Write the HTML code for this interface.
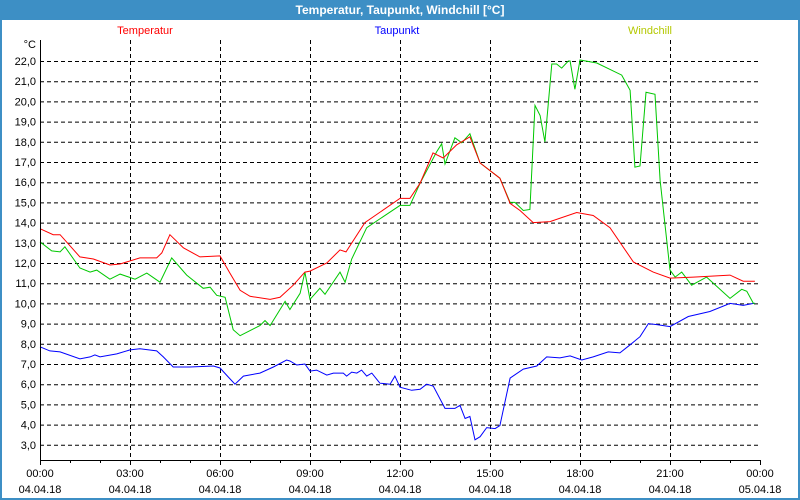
<!DOCTYPE html>
<html><head><meta charset="utf-8"><style>
body{margin:0;background:#fff}
#wrap{position:relative;width:800px;height:500px;overflow:hidden;font-family:"Liberation Sans",sans-serif}
</style></head><body>
<div id="wrap">
<svg id="chart" width="800" height="500" xmlns="http://www.w3.org/2000/svg" font-family="Liberation Sans, sans-serif" font-size="11">
<rect x="0" y="0" width="800" height="500" fill="#3d8fc5"/>
<rect x="2" y="20" width="796" height="478" fill="#fff"/>
<text x="400" y="14" text-anchor="middle" fill="#fff" font-weight="bold" font-size="12">Temperatur, Taupunkt, Windchill [°C]</text>
<text x="145" y="34" text-anchor="middle" fill="#ff0000">Temperatur</text>
<text x="397" y="34" text-anchor="middle" fill="#0000ff">Taupunkt</text>
<text x="650" y="34" text-anchor="middle" fill="#b4c800">Windchill</text>
<text x="36" y="48" text-anchor="end" fill="#000">°C</text>
<g id="grid"></g><g id="series"></g><g id="axes"></g>
</svg>
</div>
<script>
const yTicks=[3,4,5,6,7,8,9,10,11,12,13,14,15,16,17,18,19,20,21,22];
const xTickHours=[0,3,6,9,12,15,18,21,24];
const xTimeLabels=["00:00","03:00","06:00","09:00","12:00","15:00","18:00","21:00","00:00"];
const xDateLabels=["04.04.18","04.04.18","04.04.18","04.04.18","04.04.18","04.04.18","04.04.18","04.04.18","05.04.18"];
const tempHours=[0,0.44,0.67,1.33,1.78,2.33,2.67,3.33,3.89,4.06,4.33,4.78,5.33,6,6.33,6.67,7,7.67,8,8.44,8.83,9,9.56,10,10.2,10.83,12,12.33,12.67,13.1,13.44,13.89,14.33,14.67,15.33,15.67,16,16.44,17,17.89,18.44,19,19.78,20.44,21,21.78,23,23.44,23.83];
const tempValues=[13.7,13.4,13.4,12.3,12.2,11.9,11.95,12.25,12.25,12.5,13.4,12.75,12.3,12.35,11.5,10.65,10.35,10.2,10.3,10.9,11.55,11.6,12.0,12.65,12.55,14.0,15.2,15.2,15.95,17.45,17.2,17.85,18.25,16.95,16.2,14.95,14.6,14.0,14.05,14.5,14.35,13.75,12.05,11.55,11.25,11.3,11.4,11.1,11.1];
const chillHours=[0,0.39,0.67,0.83,1.33,1.67,1.89,2.33,2.67,3.17,3.56,4,4.39,4.89,5.44,5.67,5.89,6.17,6.44,6.67,7.33,7.5,7.67,8.17,8.33,8.67,8.83,9,9.33,9.5,10,10.17,10.39,10.89,12,12.33,12.67,13.22,13.39,13.5,13.83,14.06,14.33,14.67,15.33,15.67,15.83,16.11,16.33,16.5,16.67,16.83,17.06,17.22,17.39,17.61,17.67,17.83,18,18.56,19.39,19.67,19.83,20,20.2,20.5,20.67,21,21.17,21.39,21.72,22.22,23,23.39,23.56,23.78,23.83];
const chillValues=[13.05,12.6,12.55,12.8,11.75,11.55,11.65,11.2,11.45,11.2,11.5,11.05,12.25,11.4,10.75,10.8,10.4,10.3,8.7,8.4,8.9,9.15,8.9,10.1,9.7,10.5,11.55,10.2,10.75,10.45,11.55,11.05,12.2,13.75,14.85,14.85,15.95,17.5,17.9,16.9,18.2,17.95,18.4,16.95,16.2,15.0,15.0,14.6,14.65,19.8,19.3,18.0,21.85,21.85,21.65,22.0,22.0,20.6,22.05,21.9,21.3,20.55,16.75,16.8,20.45,20.35,16.1,11.65,11.3,11.55,10.9,11.3,10.25,10.7,10.6,10.0,10.0];
const dewHours=[0,0.33,0.67,1.33,1.67,1.83,2,2.56,3,3.33,3.89,4.11,4.44,5,5.78,6,6.28,6.5,6.78,7.33,7.78,8.22,8.33,8.56,8.83,9,9.22,9.56,9.78,10.11,10.22,10.39,10.56,10.72,10.89,11.06,11.33,11.67,11.83,12,12.39,12.67,12.89,13.11,13.5,13.83,14,14.17,14.33,14.5,14.67,14.89,15.17,15.33,15.67,16.11,16.56,16.89,17.33,17.67,18.06,18.44,18.94,19.33,19.67,20,20.28,20.56,21,21.61,22.33,23,23.44,23.78,23.83];
const dewValues=[7.85,7.65,7.6,7.25,7.35,7.45,7.35,7.5,7.7,7.75,7.65,7.35,6.85,6.85,6.9,6.8,6.35,6.0,6.4,6.55,6.85,7.2,7.15,6.95,7.0,6.65,6.7,6.45,6.55,6.55,6.4,6.6,6.55,6.7,6.4,6.55,6.05,6.0,6.4,5.85,5.7,5.75,6.0,5.9,4.8,4.8,4.95,4.3,4.4,3.25,3.4,3.85,3.8,3.95,6.3,6.75,6.9,7.35,7.3,7.4,7.2,7.35,7.6,7.55,7.95,8.35,9.0,8.95,8.85,9.35,9.6,10.0,9.9,10.0,10.0];

const X0=40,X1=760,YTOP=40,YBOT=460;
function xs(h){return X0+(X1-X0)*h/24;}
function ys(v){return 61+(22-v)*20.2;}
const NS="http://www.w3.org/2000/svg";
function mk(tag,attrs,parent){const e=document.createElementNS(NS,tag);for(const k in attrs)e.setAttribute(k,attrs[k]);parent.appendChild(e);return e;}
const grid=document.getElementById('grid'),axes=document.getElementById('axes'),series=document.getElementById('series');
yTicks.forEach(v=>{
  const l=mk('line',{x1:X0,x2:X1,y1:ys(v)+0.5,y2:ys(v)+0.5,stroke:'#000','stroke-dasharray':'4,3','stroke-width':1},grid);
  
  
  const t=mk('text',{x:36,y:ys(v)+4,'text-anchor':'end',fill:'#000'},axes);
  t.textContent=v.toFixed(1).replace('.',',');
  
  
});
xTickHours.forEach((h,i)=>{
  if(h>0&&h<24){
    const l=mk('line',{x1:xs(h)+0.5,x2:xs(h)+0.5,y1:YTOP,y2:YBOT,stroke:'#000','stroke-dasharray':'4,3','stroke-width':1},grid);
    
    
  }
  const t=mk('text',{x:xs(h),y:477,'text-anchor':'middle',fill:'#000'},axes);
  t.textContent=xTimeLabels[i];
  
  
  const d=mk('text',{x:xs(h),y:493,'text-anchor':'middle',fill:'#000'},axes);
  d.textContent=xDateLabels[i];
  
  
});
for(let h=0;h<=24;h++){
  const tk=mk('line',{x1:xs(h)+0.5,x2:xs(h)+0.5,y1:YBOT,y2:YBOT+(h%3===0?5:3),stroke:'#000'},axes);
  
  
}
const ya=mk('line',{x1:X0+0.5,x2:X0+0.5,y1:YTOP,y2:YBOT+0.5,stroke:'#000','stroke-width':1},axes);


const xa=mk('line',{x1:X0,x2:X1+1,y1:YBOT+0.5,y2:YBOT+0.5,stroke:'#000','stroke-width':1},axes);


function line(hours,vals,color,name){
  const p=mk('polyline',{points:hours.map((h,i)=>xs(h).toFixed(1)+','+ys(vals[i]).toFixed(1)).join(' '),fill:'none',stroke:color,'stroke-width':1},series);
  
  
}
line(dewHours,dewValues,'#0000ff','taupunkt-line');
line(chillHours,chillValues,'#00c800','windchill-line');
line(tempHours,tempValues,'#ff0000','temperatur-line');
</script>
</body></html>
